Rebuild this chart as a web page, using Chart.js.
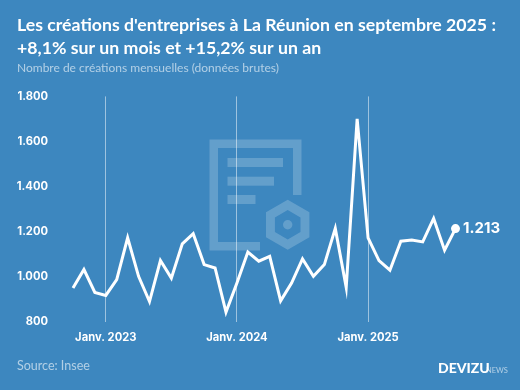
<!DOCTYPE html>
<html>
<head>
<meta charset="utf-8">
<title>Créations d'entreprises à La Réunion</title>
<script src="https://cdn.jsdelivr.net/npm/chart.js@4"></script>
<style>
html, body { margin: 0; padding: 0; background: #3d87bf; }
#wrap { position: relative; width: 520px; height: 390px; overflow: hidden; }
#logo { position: absolute; left: 0; top: 0; }
#c { position: absolute; left: 0; top: 0; }
</style>
</head>
<body>
<div id="wrap">
  <!-- filigrane derriere le graphique -->
  <svg id="logo" width="520" height="390" fill="#fff" fill-opacity="0.2">
    <path fill-rule="evenodd" d="M209.5 139.5H301.5V195H293V148H218V242H260V250.5H209.5Z"/>
    <rect x="227.5" y="158" width="55.5" height="9"/>
    <rect x="227.5" y="176.7" width="46.5" height="9"/>
    <rect x="227.5" y="195" width="28" height="9"/>
    <path fill-rule="evenodd" d="M287.7 199.7L309.4 212.2V237.2L287.7 249.7L266 237.2V212.2ZM287.7 210L274.9 217.4V232L287.7 239.4L300.5 232V217.4Z"/>
    <circle cx="287.7" cy="224.7" r="4.7"/>
  </svg>
  <canvas id="c" width="520" height="390"></canvas>
</div>
<script>
var mois = ["Oct","Nov","Déc","Janv. 2023","Fév","Mar","Avr","Mai","Juin","Juil","Août","Sep",
            "Oct","Nov","Déc","Janv. 2024","Fév","Mar","Avr","Mai","Juin","Juil","Août","Sep",
            "Oct","Nov","Déc","Janv. 2025","Fév","Mar","Avr","Mai","Juin","Juil","Août","Sep"];
var creations = [949,1031,929,916,986,1172,1001,889,1071,993,1145,1190,
                 1053,1038,842,971,1109,1068,1090,892,971,1078,1001,1053,
                 1214,952,1700,1172,1071,1028,1157,1162,1154,1258,1117,1213];
var titre = ["Les créations d'entreprises à La Réunion en septembre 2025 :","+8,1% sur un mois et +15,2% sur un an"];
var sousTitre = "Nombre de créations mensuelles (données brutes)";
var source = "Source: Insee";

function milliers(v){
	return String(v).replace(/\B(?=(\d{3})+$)/g, ".");
}

// valeur finale + pied de page
var extras = {
	id: 'extras',
	afterDraw: function(chart){
		var ctx = chart.ctx;
		var last = creations.length - 1;
		var px = chart.scales.x.getPixelForValue(last);
		var py = chart.scales.y.getPixelForValue(creations[last]);
		ctx.save();
		ctx.textBaseline = 'middle';
		ctx.textAlign = 'left';
		ctx.fillStyle = '#fff';
		ctx.font = '700 15px Inter';
		ctx.fillText(milliers(creations[last]), px + 7.5, py);
		ctx.fillStyle = 'rgba(255,255,255,0.6)';
		ctx.font = '12.5px Lato';
		ctx.fillText(source, 17, 366);
		ctx.fillStyle = '#fff';
		ctx.font = '900 14px Lato';
		ctx.fillText("DEVIZU", 438, 368);
		ctx.fillStyle = 'rgba(255,255,255,0.6)';
		ctx.font = '7.5px Lato';
		ctx.fillText("NEWS", 486, 371);
		ctx.restore();
	}
};

var myChart = new Chart(document.getElementById("c").getContext('2d'), {
	type: 'line',
	data: {
		labels: mois,
		datasets: [{
			label: "Créations",
			data: creations,
			yAxisID: 'y',
			borderColor: '#fff',
			backgroundColor: '#fff',
			borderWidth: 3,
			tension: 0,
			pointRadius: creations.map(function(v,i){ return i==creations.length-1 ? 3 : 0; }),
			pointHoverRadius: 0
		}]
	},
	options: {
		responsive: false,
		animation: false,
		// pas de padding a droite : le titre serait comprime, voir axe "marge"
		layout: { padding: { left: 17, right: 0, top: 14, bottom: 37 } },
		plugins: {
			legend: { display: false },
			tooltip: { enabled: false },
			title: {
				display: true,
				text: titre,
				align: 'start',
				color: '#fff',
				font: { family: 'Lato', size: 17.7, weight: 'bold', lineHeight: 1.3 },
				padding: { top: 0, bottom: 1 }
			},
			subtitle: {
				display: true,
				text: sousTitre,
				align: 'start',
				color: 'rgba(255,255,255,0.6)',
				font: { family: 'Lato', size: 12 },
				padding: { top: 0, bottom: 21 }
			}
		},
		scales: {
			x: {
				type: 'category',
				offset: false,
				border: { display: false },
				grid: {
					drawTicks: false,
					color: 'rgba(255,255,255,0.5)',
					lineWidth: function(c){ return c.tick && c.tick.label ? 1 : 0; }
				},
				ticks: {
					autoSkip: false,
					maxRotation: 0,
					padding: 9,
					color: '#fff',
					font: { family: 'Inter', size: 11.2, weight: '700' },
					callback: function(v,i){ return mois[i].indexOf("Janv")==0 ? mois[i] : ""; }
				}
			},
			y: {
				min: 800,
				max: 1800,
				border: { display: false },
				grid: { display: false, drawTicks: false },
				ticks: {
					stepSize: 200,
					padding: 25,
					color: '#fff',
					font: { family: 'Inter', size: 11.2, weight: '700' },
					callback: function(v){ return milliers(v); }
				},
				afterFit: function(s){ s.width = 56; }
			},
			marge: {
				position: 'right',
				display: true,
				min: 800,
				max: 1800,
				border: { display: false },
				grid: { display: false, drawTicks: false },
				ticks: { display: false },
				afterFit: function(s){ s.width = 64.5; }
			}
		}
	},
	plugins: [extras]
});
</script>
</body>
</html>
